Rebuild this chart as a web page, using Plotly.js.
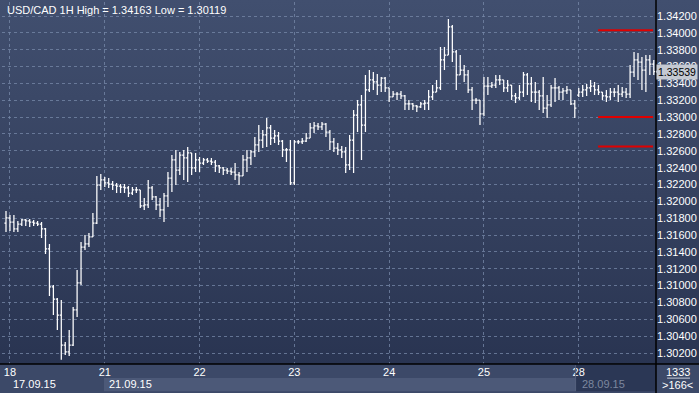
<!DOCTYPE html>
<html>
<head>
<meta charset="utf-8">
<script src="https://cdn.plot.ly/plotly-3.0.1.min.js"></script>
<style>
html,body{margin:0;padding:0;background:#2a3655;}
#chart{width:699px;height:393px;background:linear-gradient(to bottom,#414f6f 0%,#35415f 50%,#27324f 100%);box-sizing:border-box;}
</style>
</head>
<body>
<div id="chart"></div>
<script>
// USD/CAD hourly bars, 17.09.15 - 28.09.15
const openP = [
1.31743,1.31803,1.31755,1.31672,1.31731,1.31779,1.31767,1.31755,1.31743,1.31731,
1.31672,1.31436,1.30984,1.30841,1.30651,1.30295,1.30212,1.30295,1.30711,1.31031,
1.31458,1.31494,1.31577,1.31743,1.32194,1.32254,1.32218,1.32206,1.32194,1.32182,
1.32170,1.32159,1.32099,1.32135,1.32135,1.31945,1.31957,1.32159,1.32052,1.31957,
1.31898,1.32064,1.32277,1.32491,1.32372,1.32550,1.32515,1.32574,1.32396,1.32491,
1.32455,1.32491,1.32479,1.32467,1.32420,1.32396,1.32372,1.32360,1.32348,1.32313,
1.32301,1.32491,1.32515,1.32586,1.32669,1.32728,1.32788,1.32871,1.32752,1.32776,
1.32716,1.32610,1.32610,1.32218,1.32705,1.32705,1.32716,1.32752,1.32871,1.32895,
1.32883,1.32918,1.32823,1.32705,1.32633,1.32610,1.32586,1.32432,1.32728,1.33025,
1.33144,1.32906,1.33322,1.33441,1.33417,1.33381,1.33464,1.33346,1.33239,1.33274,
1.33274,1.33251,1.33156,1.33156,1.33132,1.33120,1.33156,1.33167,1.33239,1.33298,
1.33346,1.33678,1.33737,1.34070,1.33773,1.33500,1.33559,1.33500,1.33322,1.33203,
1.33203,1.33037,1.33369,1.33369,1.33381,1.33441,1.33441,1.33346,1.33381,1.33251,
1.33227,1.33298,1.33500,1.33393,1.33298,1.33298,1.33251,1.33108,1.33144,1.33346,
1.33346,1.33298,1.33310,1.33322,1.33156,1.33262,1.33298,1.33322,1.33346,1.33369,
1.33322,1.33298,1.33251,1.33239,1.33298,1.33298,1.33274,1.33298,1.33274,1.33535,
1.33678,1.33654,1.33559,1.33678,1.33630];
const highP = [
1.31886,1.31838,1.31838,1.31767,1.31791,1.31791,1.31791,1.31779,1.31767,1.31755,
1.31684,1.31494,1.31007,1.30853,1.30829,1.30331,1.30473,1.30746,1.31185,1.31518,
1.31601,1.31625,1.31862,1.32301,1.32325,1.32289,1.32277,1.32242,1.32218,1.32206,
1.32206,1.32182,1.32170,1.32170,1.32135,1.32040,1.32254,1.32182,1.32064,1.32040,
1.32099,1.32348,1.32550,1.32610,1.32586,1.32610,1.32645,1.32574,1.32574,1.32527,
1.32515,1.32515,1.32515,1.32491,1.32432,1.32408,1.32396,1.32396,1.32455,1.32348,
1.32550,1.32610,1.32610,1.32764,1.32906,1.32847,1.32989,1.32906,1.32847,1.32823,
1.32728,1.32633,1.32728,1.32728,1.32728,1.32752,1.32811,1.32930,1.32942,1.32930,
1.32942,1.32930,1.32847,1.32752,1.32693,1.32657,1.32645,1.32788,1.33084,1.33203,
1.33262,1.33500,1.33559,1.33535,1.33512,1.33476,1.33476,1.33346,1.33310,1.33298,
1.33310,1.33262,1.33203,1.33167,1.33144,1.33179,1.33203,1.33322,1.33381,1.33441,
1.33832,1.33832,1.34163,1.34093,1.33797,1.33737,1.33619,1.33559,1.33357,1.33227,
1.33203,1.33476,1.33476,1.33417,1.33500,1.33500,1.33441,1.33441,1.33381,1.33286,
1.33381,1.33535,1.33524,1.33476,1.33417,1.33322,1.33476,1.33262,1.33381,1.33464,
1.33369,1.33346,1.33369,1.33322,1.33203,1.33346,1.33381,1.33393,1.33441,1.33417,
1.33381,1.33298,1.33322,1.33346,1.33346,1.33381,1.33357,1.33346,1.33619,1.33773,
1.33761,1.33713,1.33737,1.33737,1.33678];
const lowP = [
1.31636,1.31648,1.31636,1.31636,1.31708,1.31708,1.31696,1.31708,1.31708,1.31565,
1.31375,1.30877,1.30651,1.30473,1.30119,1.30176,1.30165,1.30283,1.30628,1.31007,
1.31423,1.31458,1.31577,1.31731,1.32135,1.32170,1.32159,1.32135,1.32099,1.32099,
1.32099,1.32052,1.32076,1.32099,1.31921,1.31898,1.31921,1.32016,1.31898,1.31815,
1.31755,1.31933,1.32111,1.32194,1.32313,1.32254,1.32230,1.32313,1.32348,1.32348,
1.32432,1.32455,1.32432,1.32348,1.32337,1.32313,1.32325,1.32313,1.32254,1.32194,
1.32301,1.32348,1.32432,1.32527,1.32586,1.32633,1.32645,1.32669,1.32693,1.32669,
1.32527,1.32467,1.32194,1.32194,1.32681,1.32681,1.32705,1.32752,1.32811,1.32847,
1.32847,1.32764,1.32610,1.32586,1.32550,1.32515,1.32337,1.32372,1.32337,1.32823,
1.32491,1.32823,1.33298,1.33322,1.33262,1.33298,1.33298,1.33179,1.33239,1.33203,
1.33215,1.33084,1.33084,1.33084,1.33061,1.33108,1.33084,1.33084,1.33203,1.33298,
1.33322,1.33559,1.33737,1.33654,1.33322,1.33500,1.33417,1.33286,1.33084,1.33156,
1.32906,1.33013,1.33262,1.33346,1.33346,1.33381,1.33298,1.33298,1.33203,1.33167,
1.33203,1.33239,1.33262,1.33179,1.33167,1.33084,1.33049,1.32989,1.33120,1.33179,
1.33203,1.33203,1.33274,1.33144,1.32989,1.33239,1.33239,1.33251,1.33298,1.33262,
1.33262,1.33203,1.33179,1.33203,1.33239,1.33179,1.33239,1.33227,1.33227,1.33476,
1.33441,1.33322,1.33298,1.33500,1.33500];
const closeP = [
1.31803,1.31755,1.31672,1.31731,1.31779,1.31767,1.31755,1.31743,1.31731,1.31672,
1.31436,1.30984,1.30841,1.30651,1.30295,1.30212,1.30295,1.30711,1.31031,1.31458,
1.31494,1.31577,1.31743,1.32194,1.32254,1.32218,1.32206,1.32194,1.32182,1.32170,
1.32159,1.32099,1.32135,1.32135,1.31945,1.31957,1.32159,1.32052,1.31957,1.31898,
1.32064,1.32277,1.32491,1.32372,1.32550,1.32515,1.32574,1.32396,1.32491,1.32455,
1.32491,1.32479,1.32467,1.32420,1.32396,1.32372,1.32360,1.32348,1.32313,1.32301,
1.32491,1.32515,1.32586,1.32669,1.32728,1.32788,1.32871,1.32752,1.32776,1.32716,
1.32610,1.32610,1.32218,1.32705,1.32705,1.32716,1.32752,1.32871,1.32895,1.32883,
1.32918,1.32823,1.32705,1.32633,1.32610,1.32586,1.32432,1.32728,1.33025,1.33144,
1.32906,1.33322,1.33441,1.33417,1.33381,1.33464,1.33346,1.33239,1.33274,1.33274,
1.33251,1.33156,1.33156,1.33132,1.33120,1.33156,1.33167,1.33239,1.33298,1.33346,
1.33678,1.33737,1.34070,1.33773,1.33500,1.33559,1.33500,1.33322,1.33203,1.33203,
1.33037,1.33369,1.33369,1.33381,1.33441,1.33441,1.33346,1.33381,1.33251,1.33227,
1.33298,1.33500,1.33393,1.33298,1.33298,1.33251,1.33108,1.33144,1.33346,1.33346,
1.33298,1.33310,1.33322,1.33156,1.33108,1.33298,1.33322,1.33346,1.33369,1.33322,
1.33298,1.33251,1.33239,1.33298,1.33298,1.33274,1.33298,1.33274,1.33535,1.33678,
1.33654,1.33559,1.33678,1.33630,1.33539];

const dayTickIndex = [1, 25, 49, 73, 97, 121, 145];
const dayTickLabels = ['18', '21', '22', '23', '24', '25', '28'];
const priceTicks = [1.302,1.304,1.306,1.308,1.310,1.312,1.314,1.316,1.318,1.320,
  1.322,1.324,1.326,1.328,1.330,1.332,1.334,1.336,1.338,1.340,1.342];
const levelLines = [1.3403, 1.3300, 1.3265];
const lastPrice = 1.33539;
const titleText = 'USD/CAD 1H High = 1.34163 Low = 1.30119';

const xIdx = closeP.map((_, i) => i);

const trace = {
  type: 'ohlc', x: xIdx, open: openP, high: highP, low: lowP, close: closeP,
  increasing: {line: {color: '#ffffff', width: 1.25}},
  decreasing: {line: {color: '#ffffff', width: 1.25}},
  tickwidth: 0.4, hoverinfo: 'skip', showlegend: false
};

const gridCol = 'rgba(120,138,170,0.75)';
const fnt = 'Liberation Sans, Arial, sans-serif';
const shapes = [];
// bottom panel background
shapes.push({type:'rect', xref:'paper', yref:'paper', x0:-0.01, x1:1.07, y0:0, y1:-0.09, fillcolor:'#3c4968', line:{width:0}, layer:'below'});
shapes.push({type:'rect', xref:'x', yref:'paper', x0:24.8, x1:144.2, y0:-0.039, y1:-0.075, fillcolor:'#4c5978', line:{width:0}, layer:'below'});
shapes.push({type:'rect', xref:'x', yref:'paper', x0:144.2, x1:164.56, y0:-0.003, y1:-0.075, fillcolor:'#2b3755', line:{width:0}, layer:'below'});
shapes.push({type:'line', xref:'x', yref:'paper', x0:144.2, x1:144.2, y0:-0.003, y1:-0.075, line:{color:'#56627e', width:1}});
// black separators
shapes.push({type:'line', xref:'paper', yref:'paper', x0:-0.01, x1:1.07, y0:0, y1:0, line:{color:'#000000', width:1.5}});
shapes.push({type:'line', xref:'paper', yref:'paper', x0:1, x1:1, y0:-0.09, y1:1.01, line:{color:'#000000', width:1.5}});
// red level lines
levelLines.forEach(v => shapes.push({type:'line', xref:'x', yref:'y', x0:149.9, x1:163.8, y0:v, y1:v, line:{color:'#e00000', width:2}}));
// price marker arrow
shapes.push({type:'path', xref:'paper', yref:'y', path:'M 0.9995,' + lastPrice + ' L 1.0070,' + (lastPrice+0.0007) + ' L 1.0070,' + (lastPrice-0.0007) + ' Z', fillcolor:'#c4c9d2', line:{width:0}});
// bottom-right box separator
shapes.push({type:'line', xref:'paper', yref:'paper', x0:1.017, x1:1.052, y0:-0.039, y1:-0.039, line:{color:'#c8cedb', width:1}});

const annotations = [
  {xref:'paper', yref:'paper', x:0.0046, y:0.978, xanchor:'left', yanchor:'middle', text:titleText, showarrow:false, font:{family:fnt, size:11, color:'#ffffff'}},
  {xref:'x', yref:'paper', x:1.3, y:-0.056, xanchor:'left', yanchor:'middle', text:'17.09.15', showarrow:false, font:{family:fnt, size:11, color:'#ffffff'}},
  {xref:'x', yref:'paper', x:25.6, y:-0.056, xanchor:'left', yanchor:'middle', text:'21.09.15', showarrow:false, font:{family:fnt, size:11, color:'#ffffff'}},
  {xref:'x', yref:'paper', x:145.3, y:-0.056, xanchor:'left', yanchor:'middle', text:'28.09.15', showarrow:false, font:{family:fnt, size:11, color:'#7d879f'}},
  {xref:'paper', yref:'paper', x:1.0336, y:-0.022, xanchor:'center', yanchor:'middle', text:'1333', showarrow:false, font:{family:fnt, size:11, color:'#ffffff'}},
  {xref:'paper', yref:'paper', x:1.0336, y:-0.058, xanchor:'center', yanchor:'middle', text:'&gt;166&lt;', showarrow:false, font:{family:fnt, size:11, color:'#ffffff'}},
  {xref:'paper', yref:'y', x:1.0642, y:lastPrice, xanchor:'right', yanchor:'middle', text:'1.33539', showarrow:false, bgcolor:'#c4c9d2', borderpad:1, font:{family:fnt, size:10.5, color:'#000000'}}
];

const layout = {
  width: 699, height: 393,
  margin: {l: 2, r: 43, t: 2, b: 29},
  paper_bgcolor: 'rgba(0,0,0,0)', plot_bgcolor: 'rgba(0,0,0,0)',
  showlegend: false,
  xaxis: {
    range: [-1.013, 164.56], rangeslider: {visible: false},
    tickmode: 'array', tickvals: dayTickIndex, ticktext: dayTickLabels,
    showgrid: true, gridcolor: gridCol, griddash: 'dot', gridwidth: 1,
    zeroline: false, showline: false, ticks: '', fixedrange: true,
    tickfont: {family: fnt, size: 11, color: '#ffffff'}
  },
  yaxis: {
    side: 'right', range: [1.300695, 1.343662],
    tickmode: 'array', tickvals: priceTicks, tickformat: '.5f',
    showgrid: true, gridcolor: gridCol, griddash: 'dot', gridwidth: 1,
    zeroline: false, showline: false, ticks: '', fixedrange: true,
    tickfont: {family: fnt, size: 11, color: '#ffffff'}
  },
  shapes: shapes,
  annotations: annotations
};

Plotly.newPlot('chart', [trace], layout, {displayModeBar: false, staticPlot: true});
</script>
</body>
</html>
